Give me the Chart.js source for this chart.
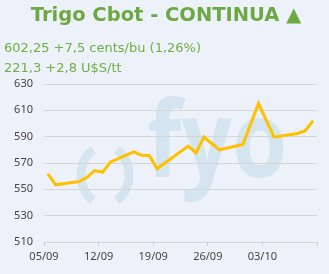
<!DOCTYPE html>
<html>
<head>
<meta charset="utf-8">
<script src="https://cdn.jsdelivr.net/npm/chart.js@4/dist/chart.umd.min.js"></script>
<style>
  html, body { margin: 0; padding: 0; background: #edf1f9; width: 329px; height: 274px; overflow: hidden; }
  #wrap { position: relative; width: 329px; height: 274px; }
  canvas { position: absolute; left: 0; top: 0; }
  .title { position: absolute; left: 0; width: 332px; top: 3px; text-align: center; font: bold 19.5px "DejaVu Sans", Verdana, sans-serif; color: #6ea843; line-height: 24px; white-space: nowrap; }
  .sub { position: absolute; left: 4px; font: 13px "DejaVu Sans", Verdana, sans-serif; color: #6eb043; line-height: 16px; white-space: nowrap; }
</style>
</head>
<body>
<div id="wrap">
  <canvas id="c" width="329" height="274"></canvas>
  <div class="title" id="title"></div>
  <div class="sub" id="sub1" style="top:40px"></div>
  <div class="sub" id="sub2" style="top:60px"></div>
</div>
<script>
// ---- data ----
const titleText = "Trigo Cbot - CONTINUA \u25B2";
const subLines = ["602,25 +7,5 cents/bu (1,26%)", "221,3 +2,8 U$S/tt"];
const startDate = "2024-09-05T00:00:00";
const dates = [
  "2024-09-05","2024-09-06","2024-09-09","2024-09-10","2024-09-11","2024-09-12","2024-09-13",
  "2024-09-16","2024-09-17","2024-09-18","2024-09-19","2024-09-20",
  "2024-09-23","2024-09-24","2024-09-25","2024-09-26","2024-09-27",
  "2024-09-30","2024-10-01","2024-10-02","2024-10-03","2024-10-04",
  "2024-10-07","2024-10-08","2024-10-09"
];
const prices = [
  561.8, 553.4, 555.9, 559.0, 564.3, 563.0, 570.6,
  578.4, 575.9, 575.7, 565.6, 570.0,
  582.8, 577.6, 589.7, 584.8, 580.0,
  584.1, 599.6, 615.2, 602.3, 589.6,
  592.4, 594.5, 602.25
];
const xTickLabels = ["05/09", "12/09", "19/09", "26/09", "03/10", ""];
const yMin = 510, yMax = 630, yStep = 20;

document.getElementById('title').textContent = titleText;
document.getElementById('sub1').textContent = subLines[0];
document.getElementById('sub2').textContent = subLines[1];

const t0 = Date.parse(startDate);
const points = dates.map((d, i) => ({
  x: (Date.parse(d + "T12:00:00") - t0) / 864e5,
  y: prices[i]
}));

const watermark = {
  id: 'watermark',
  beforeDraw(chart) {
    const ctx = chart.ctx;
    ctx.save();
    ctx.fillStyle = '#d5e5f0';
    ctx.strokeStyle = '#d5e5f0';
    ctx.lineWidth = 9;
    ctx.lineCap = 'butt';
    ctx.beginPath();
    ctx.ellipse(107, 175, 26, 30, 0, Math.PI * 0.68, Math.PI * 1.32);
    ctx.stroke();
    ctx.beginPath();
    ctx.ellipse(103, 175, 26, 30, 0, -Math.PI * 0.32, Math.PI * 0.32);
    ctx.stroke();
    ctx.font = 'bold 106px "Open Sans", sans-serif';
    ctx.textBaseline = 'alphabetic';
    ctx.translate(147, 177);
    ctx.scale(0.84, 1);
    ctx.fillText('fyo', 0, 0);
    ctx.restore();
  }
};

const tickFont = { family: '"Noto Sans", "Open Sans", sans-serif', size: 11 };

new Chart(document.getElementById('c'), {
  type: 'line',
  data: {
    datasets: [{
      data: points,
      borderColor: '#ffc000',
      borderWidth: 3,
      pointRadius: 0,
      tension: 0,
      fill: false
    }]
  },
  options: {
    responsive: false,
    animation: false,
    devicePixelRatio: 1,
    layout: { padding: { top: 84, right: 12, left: 0, bottom: 0 } },
    plugins: { legend: { display: false }, tooltip: { enabled: false }, title: { display: false } },
    scales: {
      x: {
        type: 'linear',
        min: 0,
        max: 35,
        afterFit(s) { s.height = 32; },
        ticks: {
          stepSize: 7,
          autoSkip: false,
          maxRotation: 0,
          padding: 4,
          color: '#444',
          font: tickFont,
          callback: (v) => xTickLabels[Math.round(v / 7)] ?? ''
        },
        grid: { drawOnChartArea: false, drawTicks: true, tickLength: 4, color: '#cfcfcf' },
        border: { display: true, color: '#d4d4d4' }
      },
      y: {
        min: yMin,
        max: yMax,
        afterFit(s) { s.width = 44; },
        ticks: { stepSize: yStep, padding: 11, color: '#444', font: tickFont },
        grid: { color: '#d6d6d6', drawTicks: false },
        border: { display: false }
      }
    }
  },
  plugins: [watermark]
});
</script>
</body>
</html>
